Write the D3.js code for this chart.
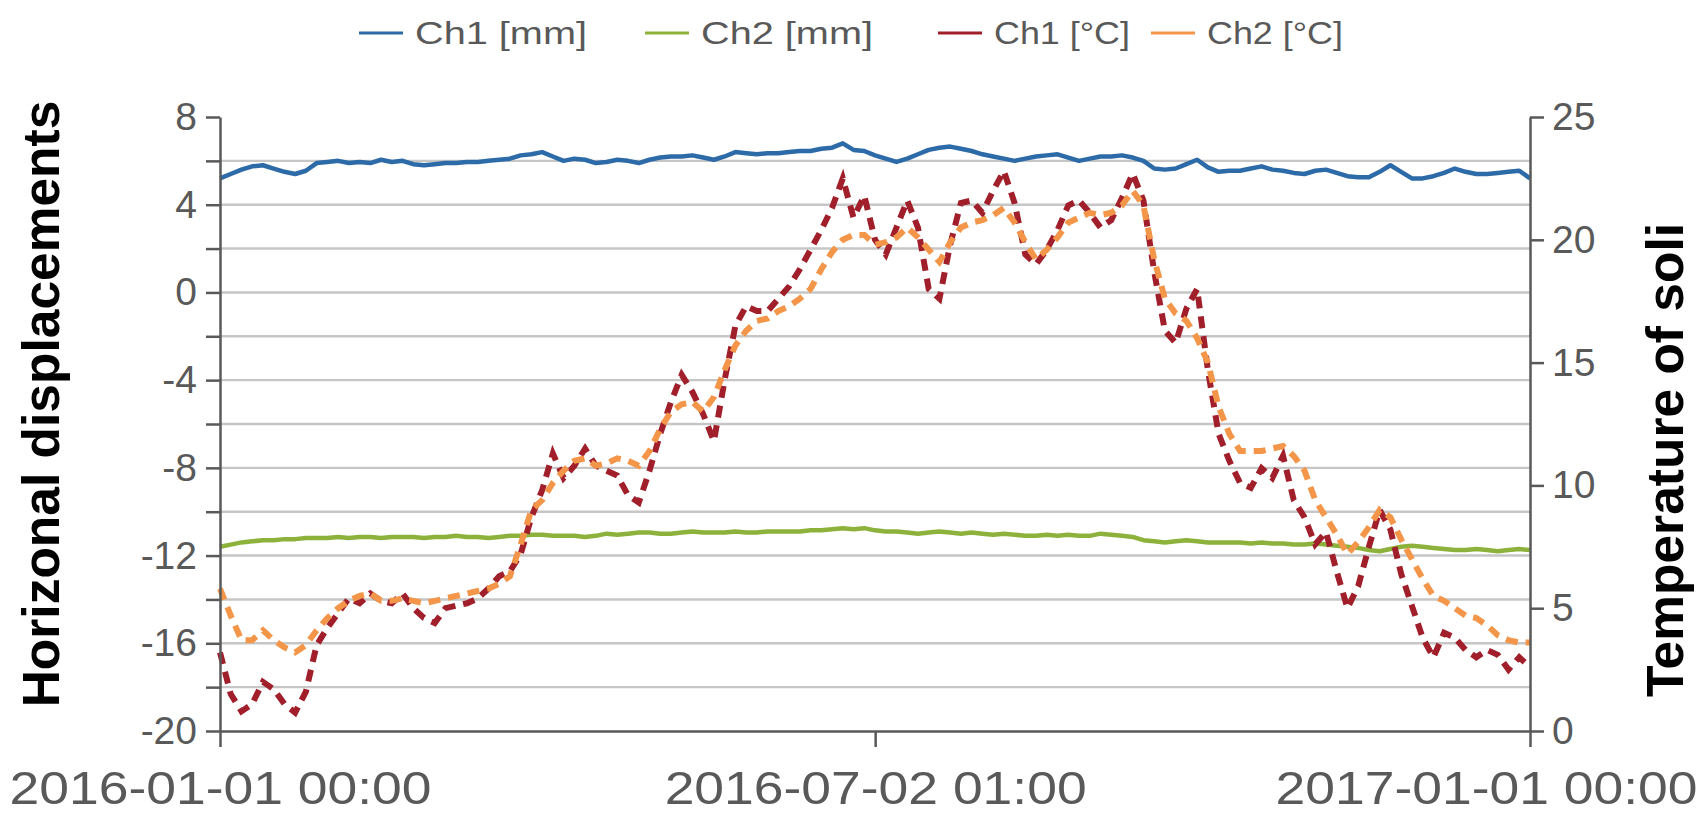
<!DOCTYPE html>
<html>
<head>
<meta charset="utf-8">
<script src="https://cdn.jsdelivr.net/npm/d3@7"></script>
<style>
  html, body { margin: 0; padding: 0; background: #ffffff; }
  svg { display: block; }
  text { font-family: "Liberation Sans", Arial, sans-serif; }
</style>
</head>
<body>
<svg id="chart" width="1706" height="813"></svg>
<script>
// Sampling: one reading every 3 days, starting 2016-01-01 00:00 (UTC)
const startDate = "2016-01-01T00:00:00Z";
const stepDays = 3;

// Horizontal displacement, channel 1 [mm] (left axis)
const ch1Mm = [
  5.2, 5.4, 5.6, 5.75, 5.8, 5.65, 5.5, 5.4, 5.55, 5.9,
  5.95, 6.0, 5.9, 5.95, 5.9, 6.05, 5.95, 6.0, 5.85, 5.8,
  5.85, 5.9, 5.9, 5.95, 5.95, 6.0, 6.05, 6.1, 6.25, 6.3,
  6.4, 6.2, 6.0, 6.1, 6.05, 5.9, 5.95, 6.05, 6.0, 5.9,
  6.05, 6.15, 6.2, 6.2, 6.25, 6.15, 6.05, 6.2, 6.4, 6.35,
  6.3, 6.35, 6.35, 6.4, 6.45, 6.45, 6.55, 6.6, 6.8, 6.5,
  6.45, 6.25, 6.1, 5.95, 6.1, 6.3, 6.5, 6.6, 6.65, 6.55,
  6.45, 6.3, 6.2, 6.1, 6.0, 6.1, 6.2, 6.25, 6.3, 6.15,
  6.0, 6.1, 6.2, 6.2, 6.25, 6.15, 6.0, 5.65, 5.6, 5.65,
  5.85, 6.05, 5.7, 5.5, 5.55, 5.55, 5.65, 5.75, 5.6, 5.55,
  5.45, 5.4, 5.55, 5.6, 5.45, 5.3, 5.25, 5.25, 5.5, 5.8,
  5.5, 5.2, 5.2, 5.3, 5.45, 5.65, 5.5, 5.4, 5.4, 5.45,
  5.5, 5.55, 5.2
];

// Horizontal displacement, channel 2 [mm] (left axis)
const ch2Mm = [
  -11.6, -11.5, -11.4, -11.35, -11.3, -11.3, -11.25, -11.25, -11.2, -11.2,
  -11.2, -11.15, -11.2, -11.15, -11.15, -11.2, -11.15, -11.15, -11.15, -11.2,
  -11.15, -11.15, -11.1, -11.15, -11.15, -11.2, -11.15, -11.1, -11.1, -11.05,
  -11.05, -11.1, -11.1, -11.1, -11.15, -11.1, -11.0, -11.05, -11.0, -10.95,
  -10.95, -11.0, -11.0, -10.95, -10.9, -10.95, -10.95, -10.95, -10.9, -10.95,
  -10.95, -10.9, -10.9, -10.9, -10.9, -10.85, -10.85, -10.8, -10.75, -10.8,
  -10.75, -10.85, -10.9, -10.9, -10.95, -11.0, -10.95, -10.9, -10.95, -11.0,
  -10.95, -11.0, -11.05, -11.0, -11.05, -11.1, -11.1, -11.05, -11.1, -11.05,
  -11.1, -11.1, -11.0, -11.05, -11.1, -11.15, -11.3, -11.35, -11.4, -11.35,
  -11.3, -11.35, -11.4, -11.4, -11.4, -11.4, -11.45, -11.4, -11.45, -11.45,
  -11.5, -11.5, -11.45, -11.5, -11.55, -11.6, -11.65, -11.75, -11.8, -11.7,
  -11.6, -11.55, -11.6, -11.65, -11.7, -11.75, -11.75, -11.7, -11.75, -11.8,
  -11.75, -11.7, -11.75
];

// Soil temperature, channel 1 [°C] (right axis)
const ch1Temp = [
  3.2, 1.5, 0.8, 1.1, 2.0, 1.7, 1.1, 0.75, 1.6, 3.5,
  4.2, 4.8, 5.4, 5.2, 5.6, 5.3, 5.2, 5.6, 5.0, 4.6,
  4.4, 5.0, 5.1, 5.2, 5.4, 5.8, 6.3, 6.5, 7.2, 8.7,
  9.8, 11.3, 10.3, 10.8, 11.5, 10.8, 10.6, 10.4, 9.6, 9.3,
  10.6, 12.1, 13.4, 14.5, 13.8, 12.9, 11.8, 14.3, 16.5, 17.3,
  17.1, 17.1, 17.6, 18.1, 18.8, 19.6, 20.4, 21.3, 22.5, 20.9,
  21.8, 20.0, 19.4, 20.5, 21.6, 20.5, 18.0, 17.6, 19.8, 21.5,
  21.6, 21.1, 22.0, 22.8, 21.5, 19.4, 19.0, 19.6, 20.4, 21.4,
  21.6, 21.1, 20.5, 20.8, 21.7, 22.7, 21.6, 18.7, 16.3, 15.8,
  17.2, 18.0, 14.7, 12.1, 11.0, 10.1, 9.9, 10.7, 10.3, 11.2,
  9.4, 8.7, 7.6, 8.1, 6.5, 5.0, 5.9, 7.5, 9.0, 8.2,
  6.4, 5.1, 3.8, 3.0, 4.0, 3.8, 3.3, 3.0, 3.3, 3.1,
  2.5, 3.0, 2.6
];

// Soil temperature, channel 2 [°C] (right axis)
const ch2Temp = [
  5.8, 4.7, 3.7, 3.7, 4.1, 3.7, 3.4, 3.2, 3.5, 4.1,
  4.6, 5.0, 5.3, 5.5, 5.6, 5.3, 5.3, 5.4, 5.3, 5.2,
  5.3, 5.4, 5.5, 5.6, 5.7, 5.8, 6.0, 6.3, 7.6, 9.0,
  9.4, 10.1, 10.6, 11.0, 11.1, 10.8, 10.9, 11.1, 11.0, 10.8,
  11.4, 12.3, 13.0, 13.3, 13.4, 13.0, 13.6, 14.7, 15.7, 16.3,
  16.7, 16.8, 17.1, 17.3, 17.6, 18.0, 18.8, 19.5, 20.0, 20.2,
  20.2, 19.8, 19.9, 20.1, 20.5, 20.1, 19.6, 19.1, 19.9, 20.5,
  20.7, 20.8, 21.0, 21.3, 20.7, 19.9, 19.2, 19.6, 20.1, 20.7,
  20.9, 21.1, 21.0, 21.1, 21.4, 22.0, 21.4, 19.2, 17.6, 17.0,
  16.7, 16.0, 15.0, 13.2, 12.1, 11.4, 11.4, 11.4, 11.5, 11.6,
  11.2, 10.6, 9.4, 8.7, 8.0, 7.2, 7.7, 8.3, 9.0, 8.7,
  7.8, 7.0, 6.2, 5.5, 5.3, 5.0, 4.7, 4.6, 4.3, 3.9,
  3.7, 3.6, 3.6
];

// Axis ticks
const xTickDates = ["2016-01-01T00:00:00Z", "2016-07-02T01:00:00Z", "2017-01-01T00:00:00Z"];
const leftTicks = [-20, -18, -16, -14, -12, -10, -8, -6, -4, -2, 0, 2, 4, 6, 8];
const leftLabelled = [-20, -16, -12, -8, -4, 0, 4, 8];
const rightTicks = [0, 5, 10, 15, 20, 25];

const seriesNames = ["Ch1 [mm]", "Ch2 [mm]", "Ch1 [°C]", "Ch2 [°C]"];
const seriesColors = ["#2c6aa8", "#8cb23c", "#a01f2a", "#f3964a"];

const leftTitle = "Horizonal displacements";
const rightTitle = "Temperature of soli";

// ---- layout ----
const svg = d3.select("#chart");
const m = { left: 220, right: 1530, top: 117, bottom: 731 };
const grey = "#595959";

const t0 = new Date(startDate);
const dayMs = 86400000;
const dates = d3.range(ch1Mm.length).map(i => new Date(t0.getTime() + i * stepDays * dayMs));

const x = d3.scaleUtc()
  .domain([new Date(xTickDates[0]), new Date(xTickDates[2])])
  .range([m.left, m.right]);
const yL = d3.scaleLinear().domain([-20, 8]).range([m.bottom, m.top]);
const yR = d3.scaleLinear().domain([0, 25]).range([m.bottom, m.top]);

// horizontal gridlines (every 2 units on the left axis)
svg.append("g")
  .selectAll("line")
  .data(leftTicks.filter(v => v > -20 && v < 8))
  .join("line")
  .attr("x1", m.left).attr("x2", m.right)
  .attr("y1", d => yL(d)).attr("y2", d => yL(d))
  .attr("stroke", "#c6c6c6")
  .attr("stroke-width", 2.4);

// series
const pts = (vals) => vals.map((v, i) => [dates[i], v]);
const lineL = d3.line().x(d => x(d[0])).y(d => yL(d[1]));
const lineR = d3.line().x(d => x(d[0])).y(d => yR(d[1]));

const plot = svg.append("g");
plot.append("path").datum(pts(ch1Mm)).attr("d", lineL)
  .attr("fill", "none").attr("stroke", seriesColors[0]).attr("stroke-width", 4.5)
  .attr("stroke-linejoin", "round");
plot.append("path").datum(pts(ch2Mm)).attr("d", lineL)
  .attr("fill", "none").attr("stroke", seriesColors[1]).attr("stroke-width", 4.5)
  .attr("stroke-linejoin", "round");
plot.append("path").datum(pts(ch1Temp)).attr("d", lineR)
  .attr("fill", "none").attr("stroke", seriesColors[2]).attr("stroke-width", 6)
  .attr("stroke-dasharray", "12,8");
plot.append("path").datum(pts(ch2Temp)).attr("d", lineR)
  .attr("fill", "none").attr("stroke", seriesColors[3]).attr("stroke-width", 6)
  .attr("stroke-dasharray", "12,8");

// axes
function styleAxis(g, fs) {
  g.selectAll(".domain").attr("stroke", grey).attr("stroke-width", 2.5);
  g.selectAll(".tick line").attr("stroke", grey).attr("stroke-width", 2.5);
  g.selectAll(".tick text").attr("fill", grey).style("font-size", fs + "px");
}

const axL = d3.axisLeft(yL).tickValues(leftTicks).tickSize(14).tickPadding(9)
  .tickSizeOuter(0)
  .tickFormat(d => leftLabelled.includes(d) ? String(d) : "");
svg.append("g").attr("transform", `translate(${m.left},0)`).call(axL).call(g => styleAxis(g, 39));

const axR = d3.axisRight(yR).tickValues(rightTicks).tickSize(14).tickPadding(8)
  .tickSizeOuter(0).tickFormat(d => String(d));
svg.append("g").attr("transform", `translate(${m.right},0)`).call(axR).call(g => styleAxis(g, 39));

const fmt = d3.utcFormat("%Y-%m-%d %H:%M");
const axB = d3.axisBottom(x).tickValues(xTickDates.map(s => new Date(s)))
  .tickSize(16).tickPadding(24).tickSizeOuter(0).tickFormat(fmt);
const gB = svg.append("g").attr("transform", `translate(0,${m.bottom})`).call(axB).call(g => styleAxis(g, 46));
// date labels are drawn wide; the last one is kept inside the canvas edge
gB.selectAll(".tick text")
  .attr("textLength", 422).attr("lengthAdjust", "spacingAndGlyphs")
  .each(function (d, i, nodes) {
    if (i === nodes.length - 1) {
      d3.select(this).attr("text-anchor", "end").attr("x", 1697 - x(d));
    }
  });

// axis titles
svg.append("text")
  .attr("transform", `translate(${41},${404}) rotate(-90)`)
  .attr("text-anchor", "middle").attr("dominant-baseline", "central")
  .style("font-size", "51.5px").style("font-weight", "bold").attr("fill", "#000")
  .text(leftTitle);
svg.append("text")
  .attr("transform", `translate(${1665},${460}) rotate(-90)`)
  .attr("text-anchor", "middle").attr("dominant-baseline", "central")
  .style("font-size", "51.5px").style("font-weight", "bold").attr("fill", "#000")
  .text(rightTitle);

// legend
const legendX = [359, 645, 938, 1151];
const legendTextW = [172, 172, 136, 136];
const legend = svg.append("g");
seriesNames.forEach((name, i) => {
  const g = legend.append("g").attr("transform", `translate(${legendX[i]},33)`);
  g.append("line").attr("x1", 0).attr("x2", 44).attr("y1", 0).attr("y2", 0)
    .attr("stroke", seriesColors[i]).attr("stroke-width", 3);
  g.append("text").attr("x", 56).attr("y", 0).attr("dominant-baseline", "central")
    .attr("textLength", legendTextW[i]).attr("lengthAdjust", "spacingAndGlyphs")
    .style("font-size", "32px").attr("fill", grey).text(name);
});
</script>
</body>
</html>
